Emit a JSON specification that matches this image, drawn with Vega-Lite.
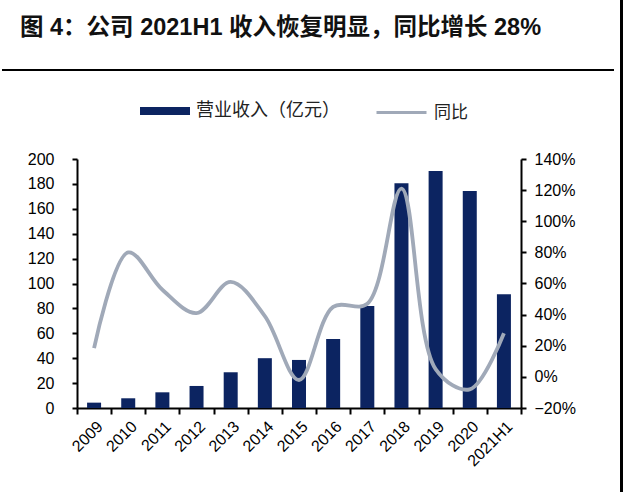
{
  "$schema": "https://vega.github.io/schema/vega-lite/v6.json",
  "width": 444,
  "height": 249,
  "autosize": {"type": "none"},
  "padding": {"left": 77, "top": 159, "right": 103, "bottom": 84},
  "background": "white",
  "config": {"view": {"stroke": null}, "font": "Liberation Sans"},
  "title": {
    "text": "图 4：公司 2021H1 收入恢复明显，同比增长 28%",
    "anchor": "start",
    "frame": "group",
    "dx": -57,
    "offset": 0,
    "dy": 41,
    "fontSize": 23.5,
    "font": "Liberation Sans, Noto Sans CJK SC",
    "fontWeight": "bold",
    "color": "#111111"
  },
  "data": {
    "values": [
      {"period": "2009", "revenue": 4.3, "yoy": 0.185},
      {"period": "2010", "revenue": 7.8, "yoy": 0.80},
      {"period": "2011", "revenue": 12.6, "yoy": 0.56},
      {"period": "2012", "revenue": 17.7, "yoy": 0.41},
      {"period": "2013", "revenue": 28.7, "yoy": 0.61},
      {"period": "2014", "revenue": 40, "yoy": 0.39},
      {"period": "2015", "revenue": 38.6, "yoy": -0.02},
      {"period": "2016", "revenue": 55.4, "yoy": 0.45},
      {"period": "2017", "revenue": 82, "yoy": 0.47},
      {"period": "2018", "revenue": 180.5, "yoy": 1.21},
      {"period": "2019", "revenue": 190.4, "yoy": 0.05},
      {"period": "2020", "revenue": 174.3, "yoy": -0.08},
      {"period": "2021H1", "revenue": 91.3, "yoy": 0.28}
    ]
  },
  "layer": [
    {
      "mark": {"type": "bar", "width": {"band": 0.41}},
      "encoding": {
        "x": {
          "field": "period", "type": "ordinal", "sort": null,
          "scale": {"paddingInner": 0, "paddingOuter": 0},
          "axis": {
            "title": null, "labelAngle": -45, "tickBand": "extent",
            "domainColor": "black", "domainWidth": 2, "tickColor": "black", "tickWidth": 2, "tickSize": 6,
            "labelFontSize": 16, "labelColor": "black", "labelPadding": 4, "grid": false
          }
        },
        "y": {
          "field": "revenue", "type": "quantitative",
          "scale": {"domain": [0, 200], "nice": false},
          "axis": {
            "title": null, "values": [0, 20, 40, 60, 80, 100, 120, 140, 160, 180, 200],
            "domainColor": "black", "domainWidth": 2, "tickColor": "black", "tickWidth": 2, "tickSize": 5,
            "labelFontSize": 16, "labelColor": "black", "labelPadding": 18, "grid": false
          }
        },
        "fill": {
          "datum": "营业收入（亿元）",
          "scale": {"range": ["#0c2461"]},
          "legend": {
            "orient": "none", "legendX": 63, "legendY": -73, "title": null, "padding": 0,
            "symbolType": "M-1,-0.16H1V0.16H-1Z", "symbolSize": 2500, "symbolStrokeWidth": 0,
            "labelFontSize": 18, "labelFont": "Noto Sans CJK SC", "labelColor": "#222222", "labelOffset": 6
          }
        }
      }
    },
    {
      "mark": {"type": "line", "interpolate": "catmull-rom", "strokeWidth": 3.8},
      "encoding": {
        "x": {"field": "period", "type": "ordinal", "sort": null},
        "y": {
          "field": "yoy", "type": "quantitative",
          "scale": {"domain": [-0.2, 1.4], "nice": false},
          "axis": {
            "orient": "right", "title": null, "format": ".0%",
            "values": [-0.2, 0, 0.2, 0.4, 0.6, 0.8, 1.0, 1.2, 1.4],
            "domainColor": "black", "domainWidth": 2, "tickColor": "black", "tickWidth": 2, "tickSize": 5,
            "labelFontSize": 16, "labelColor": "black", "labelPadding": 8, "grid": false
          }
        },
        "stroke": {
          "datum": "同比",
          "scale": {"range": ["#a0a9b8"]},
          "legend": {
            "orient": "none", "legendX": 298, "legendY": -73, "title": null, "padding": 0,
            "symbolType": "stroke", "symbolSize": 2500, "symbolStrokeWidth": 3,
            "labelFontSize": 17, "labelFont": "Noto Sans CJK SC", "labelColor": "#222222", "labelOffset": 6
          }
        }
      }
    },
    {
      "data": {"values": [{"k": 1}]},
      "mark": {"type": "rule", "color": "black", "strokeWidth": 2},
      "encoding": {
        "x": {"value": -75},
        "x2": {"value": 537},
        "y": {"value": -89}
      }
    },
    {
      "data": {"values": [{"k": 1}]},
      "mark": {"type": "rule", "color": "black", "strokeWidth": 3},
      "encoding": {
        "x": {"value": 544.5},
        "y": {"value": -159},
        "y2": {"value": 333}
      }
    }
  ],
  "resolve": {"scale": {"y": "independent", "fill": "independent", "stroke": "independent"}, "legend": {"fill": "independent", "stroke": "independent"}}
}
